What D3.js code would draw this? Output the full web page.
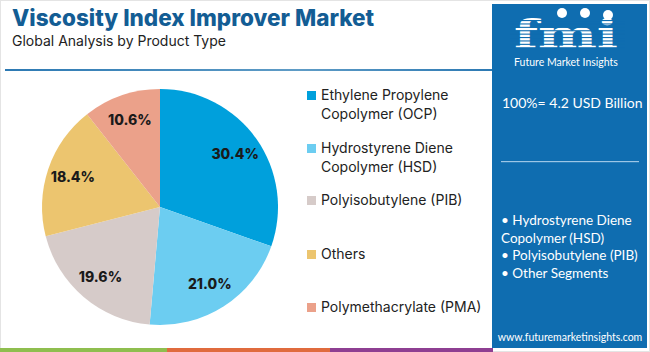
<!DOCTYPE html>
<html>
<head>
<meta charset="utf-8">
<script src="https://cdn.jsdelivr.net/npm/d3@7"></script>
<style>
  body { margin: 0; background: #fff; }
  svg { display: block; font-family: "Inter", "Open Sans", sans-serif; }
</style>
</head>
<body>
<div id="chart"></div>
<script>
var w = 650;
var h = 352;

// data
var categories = ["Ethylene Propylene Copolymer (OCP)", "Hydrostyrene Diene Copolymer (HSD)",
                  "Polyisobutylene (PIB)", "Others", "Polymethacrylate (PMA)"];
var shares = [30.4, 21.0, 19.6, 18.4, 10.6];
var legendLines = [["Ethylene Propylene", "Copolymer (OCP)"], ["Hydrostyrene Diene", "Copolymer (HSD)"],
                   ["Polyisobutylene (PIB)"], ["Others"], ["Polymethacrylate (PMA)"]];
var colors = ["#00a0dc", "#6ccdf1", "#d6cbc9", "#ecc56f", "#eba18a"];
var panelBullets = ["• Hydrostyrene Diene", "Copolymer (HSD)", "• Polyisobutylene (PIB)", "• Other Segments"];

var svg = d3.select("#chart")
  .append("svg")
  .attr("width", w)
  .attr("height", h);

// frame
svg.append("rect")
  .attr("x", 0.5).attr("y", 0.5)
  .attr("width", w - 1).attr("height", h - 1)
  .attr("fill", "none").attr("stroke", "#e4e4e4");

// title
svg.append("text")
  .attr("x", 12).attr("y", 26)
  .attr("font-size", 22.5).attr("font-weight", 800)
  .attr("fill", "#135d94")
  .text("Viscosity Index Improver Market");

svg.append("text")
  .attr("x", 12).attr("y", 46)
  .attr("font-size", 14)
  .attr("fill", "#222")
  .text("Global Analysis by Product Type");

var grad = svg.append("defs").append("linearGradient")
  .attr("id", "rule").attr("x1", "0%").attr("x2", "100%");
grad.append("stop").attr("offset", "0%").attr("stop-color", "#2c79b3");
grad.append("stop").attr("offset", "60%").attr("stop-color", "#5f9cc6");
grad.append("stop").attr("offset", "100%").attr("stop-color", "#2c79b3");

svg.append("rect")
  .attr("x", 5).attr("y", 69)
  .attr("width", 488).attr("height", 2)
  .attr("fill", "url(#rule)");

// pie
var cx = 160, cy = 207, outerRadius = 118;
var pie = d3.pie().sort(null);
var arc = d3.arc().innerRadius(0).outerRadius(outerRadius);
var labelArc = d3.arc().innerRadius(outerRadius * 0.78).outerRadius(outerRadius * 0.78);

var arcs = svg.selectAll("g.arc")
  .data(pie(shares))
  .enter()
  .append("g")
  .attr("class", "arc")
  .attr("transform", "translate(" + cx + ", " + cy + ")");

arcs.append("path")
  .attr("fill", function(d, i) { return colors[i]; })
  .attr("d", arc);

arcs.append("text")
  .attr("transform", function(d) { return "translate(" + labelArc.centroid(d) + ")"; })
  .attr("text-anchor", "middle")
  .attr("dy", "0.35em")
  .attr("font-size", 14)
  .attr("font-weight", 800)
  .attr("fill", "#1a1a1a")
  .text(function(d) { return d.value.toFixed(1) + "%"; });

// legend
var legendY = [95, 148, 200, 254, 307];
var legend = svg.selectAll("g.legend")
  .data(categories)
  .enter()
  .append("g")
  .attr("class", "legend")
  .attr("transform", function(d, i) { return "translate(307, " + legendY[i] + ")"; });

legend.append("rect")
  .attr("x", 0).attr("y", -4)
  .attr("width", 9).attr("height", 9)
  .attr("fill", function(d, i) { return colors[i]; });

legend.append("text")
  .attr("x", 14)
  .attr("font-size", 14)
  .attr("fill", "#222")
  .selectAll("tspan")
  .data(function(d, i) { return legendLines[i]; })
  .enter()
  .append("tspan")
  .attr("x", 14)
  .attr("y", function(d, j) { return 5 + j * 19; })
  .text(function(d) { return d; });

// bottom colour strip
var strip = [["#8fbe4f", 0, 167], ["#e06b3e", 167, 330], ["#8e3f92", 330, 493]];
svg.selectAll("rect.strip")
  .data(strip)
  .enter()
  .append("rect")
  .attr("class", "strip")
  .attr("x", function(d) { return d[1]; })
  .attr("y", 348)
  .attr("width", function(d) { return d[2] - d[1]; })
  .attr("height", 4)
  .attr("fill", function(d) { return d[0]; });

// right panel
var panel = svg.append("g").attr("font-family", "Lato, sans-serif");
panel.append("rect")
  .attr("x", 492).attr("y", 4)
  .attr("width", 155).attr("height", 344)
  .attr("fill", "#0f6db0");

// logo
var logo = panel.append("g");
logo.append("text")
  .attr("x", 514).attr("y", 48)
  .attr("font-family", "DejaVu Serif, serif")
  .attr("font-size", 40).attr("font-weight", 700)
  .attr("textLength", 104)
  .attr("lengthAdjust", "spacingAndGlyphs")
  .attr("fill", "#ffffff")
  .text("fmi");
logo.selectAll("rect.stripe")
  .data(d3.range(20, 50, 3.4))
  .enter()
  .append("rect")
  .attr("class", "stripe")
  .attr("x", 510).attr("y", function(d) { return d; })
  .attr("width", 115).attr("height", 1.1)
  .attr("fill", "#0f6db0");
logo.selectAll("circle.icon")
  .data([[562, 13], [585, 13], [608, 15]])
  .enter()
  .append("circle")
  .attr("class", "icon")
  .attr("cx", function(d) { return d[0]; })
  .attr("cy", function(d) { return d[1]; })
  .attr("r", 5)
  .attr("fill", "#ffffff");
logo.append("text")
  .attr("x", 566).attr("y", 66)
  .attr("text-anchor", "middle")
  .attr("font-size", 10.5)
  .attr("fill", "#ffffff")
  .text("Future Market Insights");

panel.append("text")
  .attr("x", 502).attr("y", 108)
  .attr("font-size", 14)
  .attr("fill", "#ffffff")
  .text("100%= 4.2 USD Billion");

panel.append("rect")
  .attr("x", 501).attr("y", 161)
  .attr("width", 138).attr("height", 1.2)
  .attr("fill", "#9cc6e6");

panel.append("text")
  .attr("font-size", 13.5)
  .attr("fill", "#ffffff")
  .selectAll("tspan")
  .data(panelBullets)
  .enter()
  .append("tspan")
  .attr("x", 501)
  .attr("y", function(d, i) { return 225 + i * 17.5; })
  .text(function(d) { return d; });

panel.append("text")
  .attr("x", 570).attr("y", 341)
  .attr("text-anchor", "middle")
  .attr("font-size", 10.5)
  .attr("fill", "#ffffff")
  .text("www.futuremarketinsights.com");
</script>
</body>
</html>
